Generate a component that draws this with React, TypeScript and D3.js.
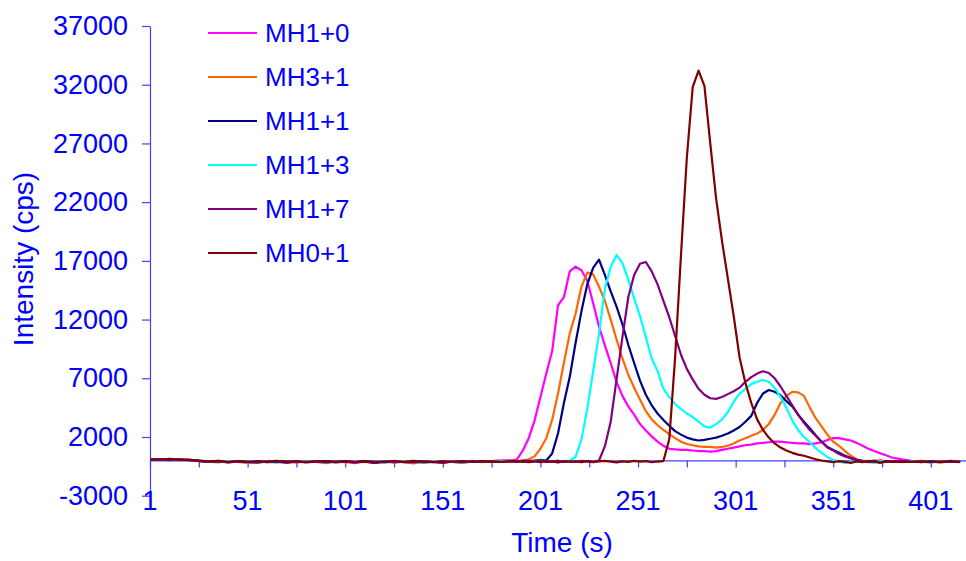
import * as d3 from "d3";
import { useEffect, useRef } from "react";

// time points (s): every 5 s on the baseline, every 3 s through the peaks
const times = [
  1, 6, 11, 16, 21, 26, 31, 36, 41, 46, 51, 56, 61, 66, 71, 76, 81, 86, 91, 96,
  101, 106, 111, 116, 121, 126, 131, 136, 141, 146, 151, 156, 161, 166, 171, 176, 181, 186,
  189, 192, 195, 198, 201, 204, 207, 210, 213, 216,
  219, 222, 225, 228, 231, 234, 237, 240, 243, 246,
  249, 252, 255, 258, 261, 264, 267, 270, 273, 276,
  279, 282, 285, 288, 291, 294, 297, 300, 303, 306,
  309, 312, 315, 318, 321, 324, 327, 330, 333, 336,
  339, 342, 345, 348, 351, 354, 357, 360, 363, 366,
  369, 372, 375, 378, 381,
  386, 391, 396, 401, 406, 411, 416,
];

const mh10 = [
  60, 90, 30, 110, 20, -60, -120, -40, -150, -90,
  -180, -70, -130, -60, -210, -100, -140, -50, -170, -90,
  -120, -230, -80, -140, -60, -190, -110, -160, -70, -130,
  -200, -90, -150, -40, -110, -60, 20, 0,
  100, 850, 1900, 3400, 5400, 7400, 9300, 13200, 13900, 16100,
  16500, 16200, 15300, 13400, 11400, 9800, 8300, 6700, 5500, 4600,
  3900, 3100, 2550, 2050, 1600, 1250, 1000, 950, 900, 900,
  850, 800, 800, 750, 800, 900, 1000, 1100, 1200, 1300,
  1350, 1450, 1500, 1550, 1600, 1600, 1550, 1500, 1450, 1450,
  1400, 1450, 1550, 1750, 1900, 1900, 1800, 1700, 1500, 1250,
  1000, 800, 620, 450, 250,
  100, -30, -60, -120, -50, -90, -140,
];

const mh31 = [
  40, 70, 100, 20, 80, -30, -90, -160, -60, -120,
  -200, -80, -140, -50, -110, -170, -70, -130, -220, -90,
  -150, -60, -120, -180, -100, -40, -140, -260, -90, -150,
  -60, -120, -190, -80, -140, -50, -100, -30,
  -50, 0, 100, 350, 1000, 1900, 3450, 5700, 8300, 10800,
  12500, 14800, 16000, 15850, 14800, 13600, 12000, 10300, 8700, 7300,
  6200, 5200, 4200, 3500, 3000, 2600, 2250, 1900, 1600, 1400,
  1300, 1200, 1150, 1150, 1100, 1150, 1250, 1450, 1700, 1900,
  2100, 2300, 2600, 3100, 3900, 4900, 5500, 5850, 5800, 5500,
  4500, 3600, 2900, 2200, 1600, 1250, 800, 400, 100, 0,
  -50, -100, 30, -120, -60,
  -80, -130, -40, -100, -160, -70, -110,
];

const mh11 = [
  80, 50, 120, 60, 30, -40, -100, -60, -140, -80,
  -120, -190, -70, -110, -50, -150, -90, -130, -60, -170,
  -100, -140, -80, -200, -120, -60, -150, -90, -180, -110,
  -70, -130, -160, -90, -50, -120, -80, -60,
  -100, 0, -50, 0, 50, 0, 600, 2300, 4870, 7100,
  10000, 12700, 15000, 16400, 17100, 15800, 14400, 13100, 11600, 9850,
  8300, 6800, 5600, 4700, 4000, 3450, 2950, 2500, 2200, 1950,
  1800, 1700, 1750, 1850, 1950, 2100, 2300, 2550, 2850, 3300,
  3800, 4900, 5700, 6000, 5850, 5550, 5050, 4600, 3900, 3300,
  2750, 2150, 1600, 1150, 900, 650, 400, 200, 50, -50,
  -100, 0, -150, -60, -120,
  -100, -60, -150, -80, -120, -40, -90,
];

const mh13 = [
  100, 60, 140, 80, 40, -20, -80, -130, -50, -110,
  -160, -60, -100, -200, -90, -140, -40, -120, -180, -70,
  -130, -90, -150, -60, -210, -110, -80, -140, -170, -60,
  -120, -100, -190, -70, -130, -80, -40, -90,
  -80, -20, -120, -60, 0, -100, -40, -150, -60, -20,
  300, 1800, 4400, 7600, 10800, 14600, 16500, 17500, 16800, 15400,
  13800, 12300, 10500, 8700, 7600, 6100, 5400, 4800, 4400, 4000,
  3700, 3300, 2900, 2800, 3100, 3500, 4100, 5000, 5700, 6100,
  6500, 6700, 6850, 6700, 6200, 5400, 4500, 3400, 2600, 2000,
  1550, 1050, 650, 300, 50, -100, -200, -80, -150, -50,
  -120, -200, -60, -140, -90,
  -140, -70, -110, -180, -60, -120, -90,
];

const mh17 = [
  70, 110, 40, 90, 60, -50, -110, -70, -170, -90,
  -130, -60, -150, -100, -190, -80, -120, -60, -160, -100,
  -70, -140, -110, -180, -90, -50, -130, -160, -80, -120,
  -200, -90, -140, -60, -110, -70, -130, -50,
  -60, -120, -30, -90, -150, -50, -100, -20, -130, -70,
  -110, -40, -90, -150, 0, 1200, 3300, 6900, 10500, 13900,
  15800, 16750, 16900, 16100, 15000, 13600, 12200, 10600, 9000, 7800,
  6900, 6100, 5600, 5300, 5250, 5400, 5650, 5900, 6200, 6700,
  7100, 7400, 7600, 7450, 7000, 6300, 5500, 4700, 3900, 3200,
  2600, 2100, 1600, 1100, 850, 550, 350, 200, 50, -60,
  -150, -80, -200, -100, -50,
  -60, -120, -90, -150, -70, -100, -130,
];

const mh01 = [
  90, 60, 130, 70, 50, 0, -70, -40, -110, -60,
  -150, -80, -100, -30, -120, -70, -160, -90, -50, -110,
  -80, -130, -60, -100, -150, -70, -120, -40, -90, -140,
  -80, -110, -60, -130, -90, -70, -120, -80,
  -100, -60, -150, -90, -40, -130, -80, -170, -60, -110,
  -90, -140, -50, -120, -80, -30, -100, -160, -70, -120,
  -40, -100, -60, -150, -90, -50, 1800, 8800, 17500, 25800,
  31800, 33200, 31900, 27000, 22300, 18700, 15500, 12300, 8800, 6600,
  4900, 3500, 2600, 1950, 1450, 1100, 850, 650, 500, 400,
  250, 100, 0, -80, -150, -60, -120, -200, -90, -140,
  -60, -110, -170, -80, -130,
  -90, -130, -70, -110, -150, -80, -120,
];

const seriesNames = ["MH1+0", "MH3+1", "MH1+1", "MH1+3", "MH1+7", "MH0+1"];
const seriesValues = [mh10, mh31, mh11, mh13, mh17, mh01];
const seriesColors = ["#ff00ff", "#ff6600", "#000080", "#00ffff", "#800080", "#800000"];

const yTicks = [-3000, 2000, 7000, 12000, 17000, 22000, 27000, 32000, 37000];
const xTickMarks = [1, 26, 51, 76, 101, 126, 151, 176, 201, 226, 251, 276, 301, 326, 351, 376, 401];
const xTickLabels = [1, 51, 101, 151, 201, 251, 301, 351, 401];

const FONT = "Arial, 'Liberation Sans', sans-serif";
const BLUE = "#0000ff";
const AXIS = "#4040ff";

export default function App() {
  const svgRef = useRef<SVGSVGElement | null>(null);

  useEffect(() => {
    if (!svgRef.current) return;
    const svg = d3.select(svgRef.current);
    svg.selectAll("*").remove();

    const x = d3.scaleLinear().domain([1, 419]).range([150, 966]);
    const y = d3.scaleLinear().domain([-3000, 37000]).range([495.7, 26]);

    // y axis
    const yAxis = svg
      .append("g")
      .attr("transform", `translate(${x(1)},0)`)
      .call(
        d3
          .axisLeft(y)
          .tickValues(yTicks)
          .tickSize(8)
          .tickSizeOuter(0)
          .tickPadding(14)
          .tickFormat((d) => String(d))
      );
    yAxis.selectAll("path, line").attr("stroke", AXIS).attr("stroke-width", 1.2);
    yAxis
      .selectAll("text")
      .attr("fill", BLUE)
      .attr("font-family", FONT)
      .attr("font-size", 27);

    // x axis crossing at zero
    const xAxis = svg
      .append("g")
      .attr("transform", `translate(0,${y(0)})`)
      .call(
        d3
          .axisBottom(x)
          .tickValues(xTickMarks)
          .tickSize(7)
          .tickSizeOuter(0)
          .tickFormat(() => "")
      );
    xAxis.selectAll("path, line").attr("stroke", AXIS).attr("stroke-width", 1.2);

    svg
      .append("g")
      .selectAll("text")
      .data(xTickLabels)
      .join("text")
      .attr("x", (d) => x(d))
      .attr("y", 510)
      .attr("text-anchor", "middle")
      .attr("fill", BLUE)
      .attr("font-family", FONT)
      .attr("font-size", 27)
      .text((d) => d);

    // series
    const line = d3
      .line<number>()
      .x((_, i) => x(times[i]))
      .y((d) => y(d));

    svg
      .append("g")
      .selectAll("path")
      .data(seriesValues)
      .join("path")
      .attr("d", (d) => line(d))
      .attr("fill", "none")
      .attr("stroke", (_, i) => seriesColors[i])
      .attr("stroke-width", 2.2)
      .attr("stroke-linejoin", "round");

    // legend
    const legend = svg
      .append("g")
      .selectAll("g")
      .data(seriesNames)
      .join("g")
      .attr("transform", (_, i) => `translate(0,${33 + i * 44})`);

    legend
      .append("line")
      .attr("x1", 208)
      .attr("x2", 257)
      .attr("stroke", (_, i) => seriesColors[i])
      .attr("stroke-width", 2.2);

    legend
      .append("text")
      .attr("x", 265)
      .attr("dy", "0.36em")
      .attr("fill", BLUE)
      .attr("font-family", FONT)
      .attr("font-size", 26)
      .text((d) => d);

    // axis titles
    svg
      .append("text")
      .attr("transform", "translate(33,259) rotate(-90)")
      .attr("text-anchor", "middle")
      .attr("fill", BLUE)
      .attr("font-family", FONT)
      .attr("font-size", 28)
      .text("Intensity (cps)");

    svg
      .append("text")
      .attr("x", 562)
      .attr("y", 552)
      .attr("text-anchor", "middle")
      .attr("fill", BLUE)
      .attr("font-family", FONT)
      .attr("font-size", 28)
      .text("Time (s)");
  }, []);

  return (
    <svg
      ref={svgRef}
      width={966}
      height={561}
      style={{ position: "absolute", left: 0, top: 0, background: "#fff" }}
    />
  );
}
